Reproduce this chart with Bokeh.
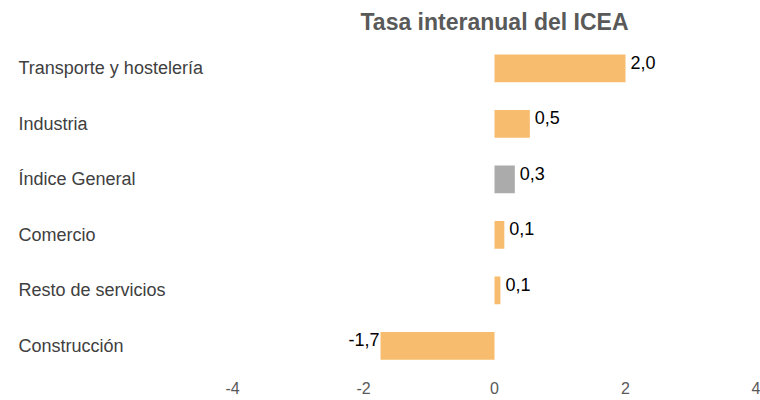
from bokeh.plotting import figure
from bokeh.layouts import row
from bokeh.models import ColumnDataSource, Range1d, FactorRange, LabelSet, FixedTicker
from bokeh.core.properties import value
from bokeh.embed import file_html
from bokeh.resources import INLINE

categories = ["Transporte y hostelería", "Industria", "Índice General",
              "Comercio", "Resto de servicios", "Construcción"]
values = [2.0, 0.54, 0.31, 0.15, 0.09, -1.74]
value_labels = ["2,0", "0,5", "0,3", "0,1", "0,1", "-1,7"]
bar_colors = ["#F8BC6E", "#F8BC6E", "#ABABAB", "#F8BC6E", "#F8BC6E", "#F8BC6E"]
x_ticks = [-4, -2, 0, 2, 4]
x_min, x_max = -4, 4

FONT = "Liberation Sans"

src = ColumnDataSource(dict(cat=categories, val=values, lab=value_labels,
                            color=bar_colors, x0=[0] * len(categories)))

pos_idx = [i for i, v in enumerate(values) if v >= 0]
neg_idx = [i for i, v in enumerate(values) if v < 0]
pos_src = ColumnDataSource(dict(cat=[categories[i] for i in pos_idx],
                                val=[values[i] for i in pos_idx],
                                lab=[value_labels[i] for i in pos_idx]))
neg_src = ColumnDataSource(dict(cat=[categories[i] for i in neg_idx],
                                val=[values[i] for i in neg_idx],
                                lab=[value_labels[i] for i in neg_idx]))

y_range = FactorRange(*reversed(categories), range_padding=0)

# left panel with the category names (left-aligned)
left = figure(width=212, height=400, output_backend="svg", toolbar_location=None,
              x_range=Range1d(0, 1), y_range=y_range,
              min_border_left=0, min_border_right=0, min_border_top=39,
              min_border_bottom=27)
left.add_layout(LabelSet(x="x0", y="cat", text="cat", source=src,
                         x_offset=18, y_offset=0, text_align="left",
                         text_baseline="middle", text_font=value(FONT),
                         text_font_size="18px", text_color="#404040"))
left.axis.visible = False
left.grid.grid_line_color = None
left.outline_line_color = None

p = figure(width=548, height=400, output_backend="svg", toolbar_location=None,
           x_range=Range1d(x_min, x_max), y_range=y_range,
           min_border_left=20, min_border_right=4, min_border_top=39,
           min_border_bottom=27, title="Tasa interanual del ICEA")

p.hbar(y="cat", left=0, right="val", height=0.5, color="color", source=src,
       line_color=None)

p.add_layout(LabelSet(x="val", y="cat", text="lab", source=pos_src,
                      x_offset=5, y_offset=6, text_align="left",
                      text_baseline="middle", text_font=value(FONT),
                      text_font_size="18px", text_color="#000000"))
p.add_layout(LabelSet(x="val", y="cat", text="lab", source=neg_src,
                      x_offset=-1, y_offset=6, text_align="right",
                      text_baseline="middle", text_font=value(FONT),
                      text_font_size="18px", text_color="#000000"))

p.title.align = "center"
p.title.text_font = FONT
p.title.text_font_size = "23px"
p.title.text_font_style = "bold"
p.title.text_color = "#595959"
p.title.standoff = 12

p.yaxis.visible = False
p.xaxis.ticker = FixedTicker(ticks=x_ticks)
p.xaxis.major_label_overrides = {t: str(t) for t in x_ticks}
p.xaxis.axis_line_color = None
p.xaxis.major_tick_line_color = None
p.xaxis.minor_tick_line_color = None
p.xaxis.major_tick_out = 0
p.xaxis.major_tick_in = 0
p.xaxis.major_label_standoff = 8
p.xaxis.major_label_text_font = FONT
p.xaxis.major_label_text_font_size = "16px"
p.xaxis.major_label_text_color = "#595959"

p.xgrid.grid_line_color = None
p.ygrid.grid_line_color = None
p.outline_line_color = None

layout = row(left, p, spacing=0)
open("out.html", "w").write(file_html(layout, INLINE))
